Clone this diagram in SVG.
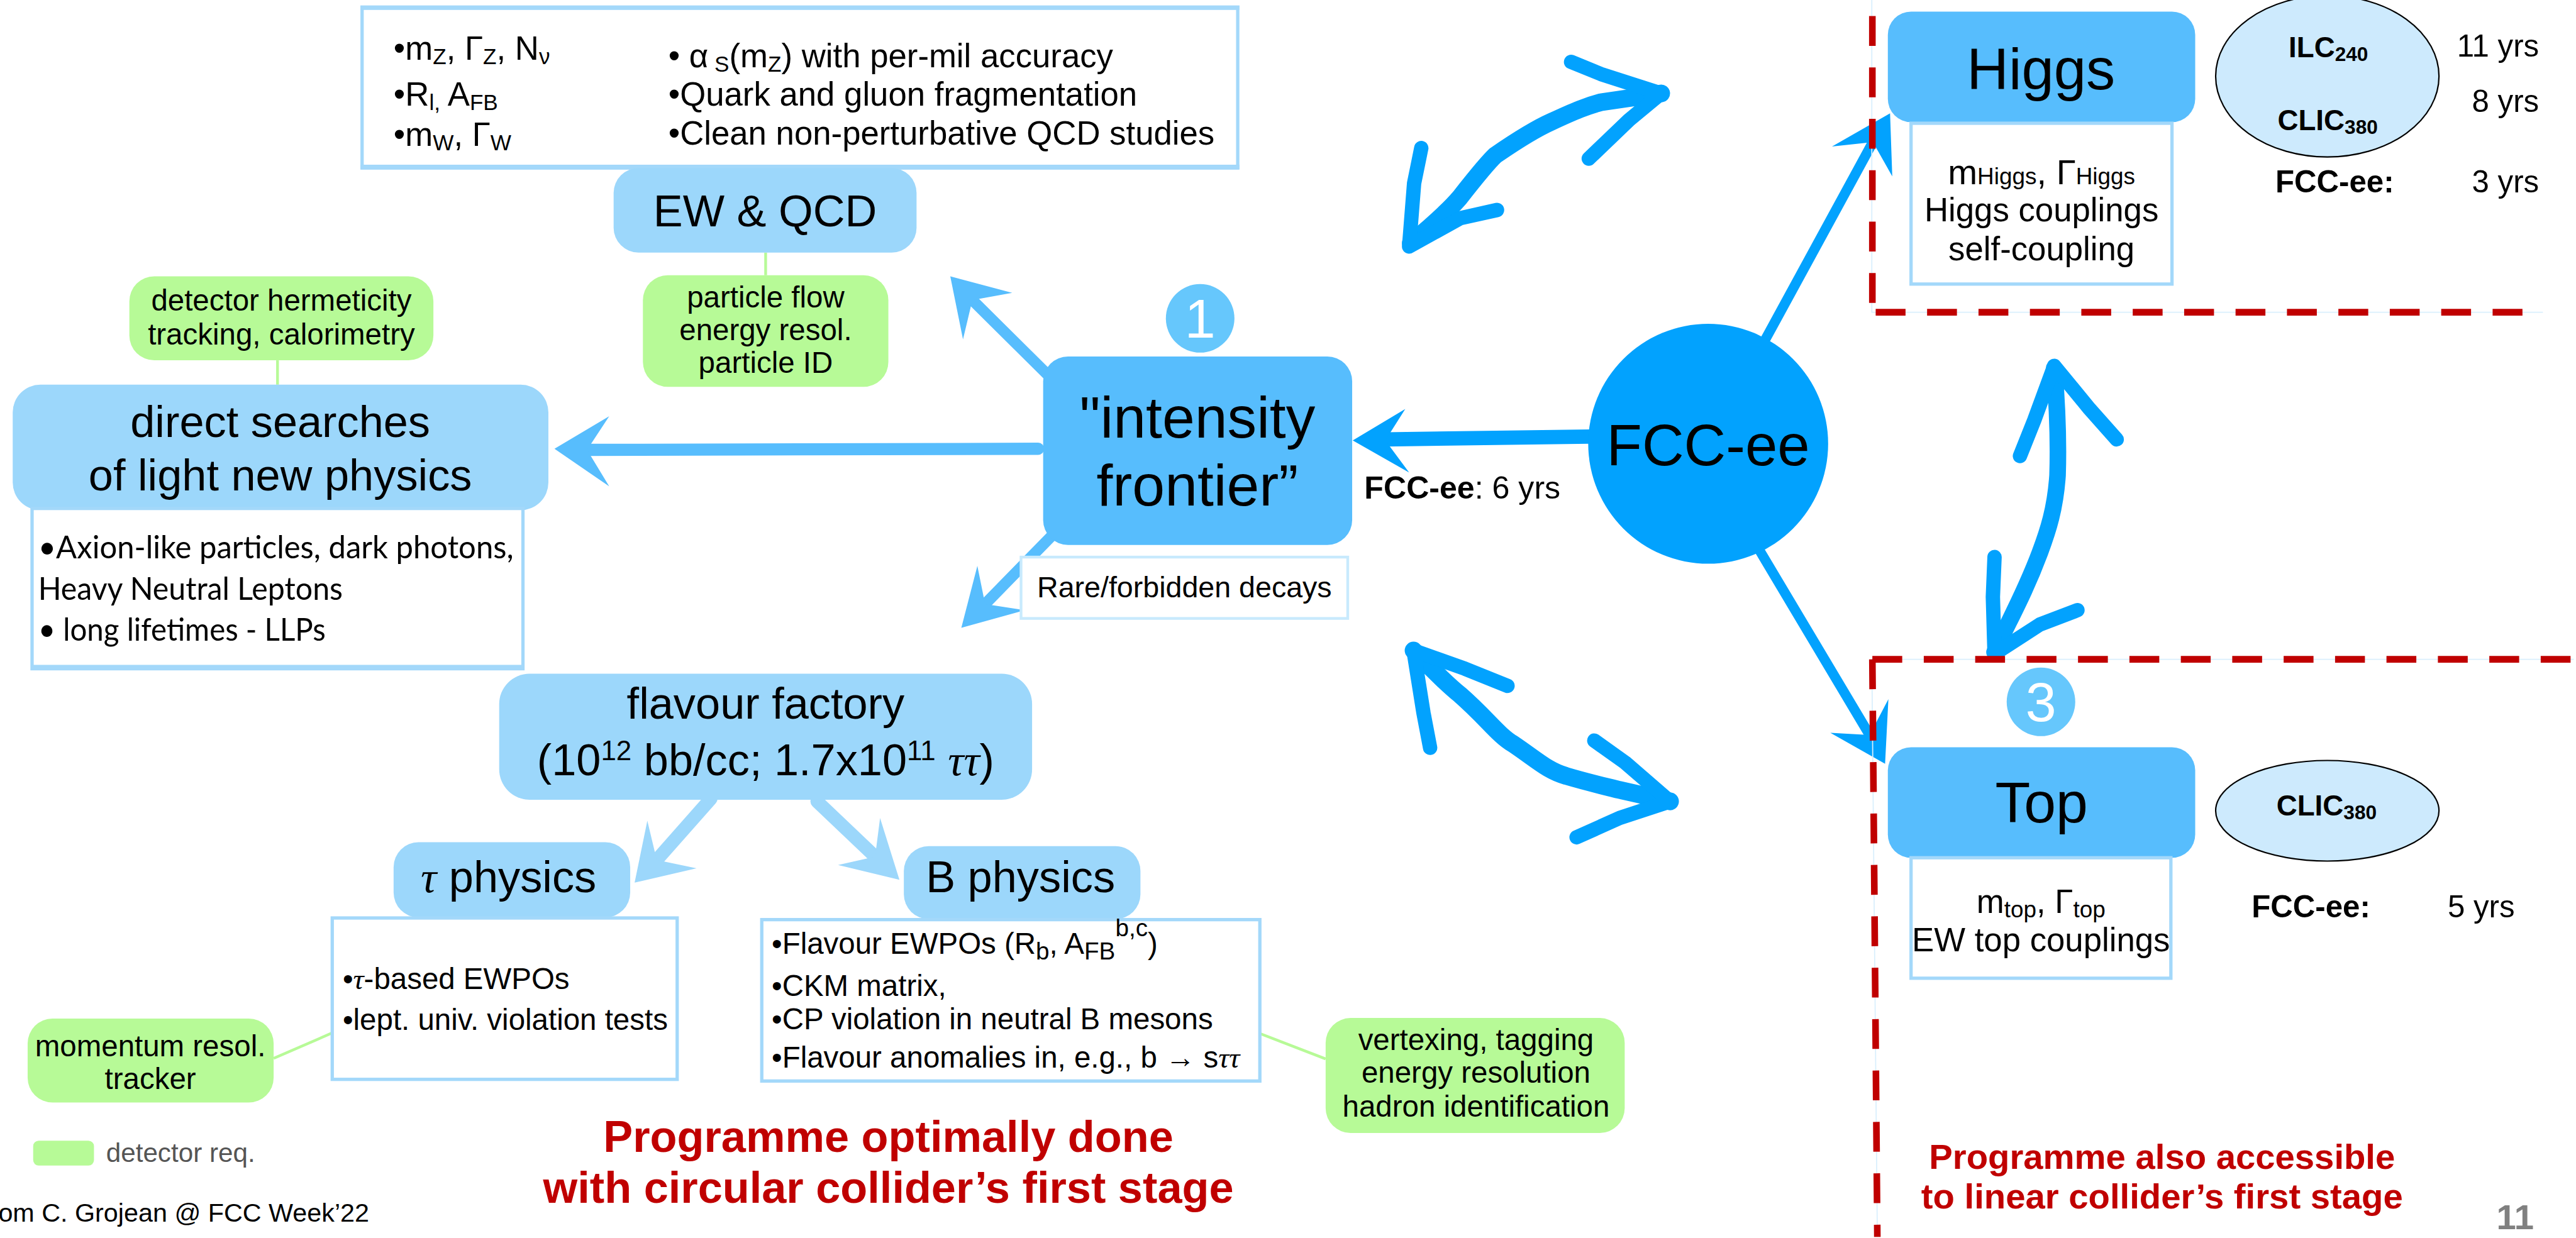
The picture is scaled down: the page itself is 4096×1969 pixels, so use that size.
<svg xmlns="http://www.w3.org/2000/svg" width="4096" height="1969" viewBox="0 0 4096 1969">
<style>
text{font-family:"Liberation Sans",Arial,sans-serif;fill:#000}
.f54{font-size:54px}
.f60{font-size:60px}
.f80{font-size:80px}
.f56{font-size:56px}
.c{text-anchor:middle}
.b{font-weight:bold}
.light{fill:#9cd7fb}
.med{fill:#57bdfd}
.green{fill:#b7fa97}
.wbox{fill:#fff;stroke:#a3d8fa;stroke-width:6}
.band{fill:#a3d8fa}
.gline{stroke:#b7fa97;stroke-width:5;fill:none}
.red{stroke:#c00000;stroke-width:12;stroke-dasharray:54 39;fill:none}
.frame{stroke:#d9effd;stroke-width:2;fill:none}
.shM{stroke:#57bdfd;fill:none;stroke-linecap:round}
.hdM{fill:#57bdfd}
.shF{stroke:#02a2fe;fill:none;stroke-linecap:round}
.hdF{fill:#02a2fe}
.shL{stroke:#9cd7fb;fill:none;stroke-linecap:round}
.hdL{fill:#9cd7fb}
.hand{stroke:#02a2fe;fill:none;stroke-linecap:round;stroke-linejoin:round}
.num{fill:#66c7fc}
.numt{font-size:100px;fill:#fff;text-anchor:middle}
.redt{fill:#c00000;font-weight:bold}
.serif{font-family:"Liberation Serif","Times New Roman",serif;font-style:italic}
.calib{font-family:Lato,"Liberation Sans",sans-serif;font-size:58px}
</style>
<rect width="4096" height="1969" fill="#fff"/>
<g transform="scale(0.879)">

<!-- connectors -->
<g id="connectors">
  <line class="gline" x1="1385" y1="457" x2="1385" y2="498"/>
  <line class="gline" x1="502" y1="652" x2="502" y2="696"/>
  <line class="gline" x1="495" y1="1915" x2="601" y2="1869"/>
  <line class="gline" x1="2279" y1="1870" x2="2398" y2="1916"/>
  <path class="shM" stroke-width="22" d="M1878 812 L1060 814"/>
  <polygon class="hdM" points="1003,812 1102,753 1062,814 1102,880"/>
  <path class="shM" stroke-width="20" d="M1894 677 L1759 543"/>
  <polygon class="hdM" points="1719,500 1831,530 1759,543 1742,614"/>
  <path class="shM" stroke-width="20" d="M1906 966 L1782 1093"/>
  <polygon class="hdM" points="1739,1136 1768,1024 1782,1093 1854,1104"/>
  <path class="shL" stroke-width="24" d="M1286 1445 L1188 1556"/>
  <polygon class="hdL" points="1148,1597 1171,1485 1188,1556 1260,1571"/>
  <path class="shL" stroke-width="24" d="M1478 1450 L1583 1550"/>
  <polygon class="hdL" points="1627,1592 1592,1480 1583,1550 1516,1565"/>
  <path class="shF" stroke-width="26" d="M2875 790 L2506 795"/>
  <polygon class="hdF" points="2447,797 2542,740 2506,797 2549,855"/>
  <path class="shF" stroke-width="18" d="M3193 615 L3388 257"/>
  <polygon class="hdF" points="3419,205 3423,319 3388,257 3314,265"/>
  <path class="shF" stroke-width="18" d="M3183 996 L3382 1330"/>
  <polygon class="hdF" points="3410,1382 3311,1326 3382,1330 3416,1265"/>
  <path class="hand" stroke-width="32" d="M2552 440 C2600 400 2630 370 2641 357 C2670 320 2690 295 2705 281 C2750 250 2780 232 2807 220 C2850 200 2870 192 2896 185 L3005 169"/>
  <path class="hand" stroke-width="26" d="M3005 169 L2896 134 L2842 112 M3005 169 L2947 217 L2874 287"/>
  <path class="hand" stroke-width="26" d="M2549 446 L2558 332 L2571 268 M2549 446 L2641 395 L2708 380"/>
  <path class="hand" stroke-width="32" d="M2557 1177 C2600 1220 2620 1240 2641 1257 C2690 1300 2710 1330 2737 1346 C2780 1375 2800 1395 2833 1404 C2870 1415 2900 1422 2928 1429 L3021 1450"/>
  <path class="hand" stroke-width="26" d="M2557 1177 L2575 1290 L2587 1353 M2557 1177 L2650 1210 L2727 1241"/>
  <path class="hand" stroke-width="26" d="M3021 1450 L2940 1380 L2884 1340 M3021 1450 L2930 1480 L2852 1515"/>
  <path class="hand" stroke-width="30" d="M3716 666 C3722 740 3724 800 3722 860 C3718 920 3705 960 3690 1000 C3660 1080 3630 1130 3608 1180"/>
  <path class="hand" stroke-width="26" d="M3716 662 L3680 760 L3654 825 M3716 662 L3780 740 L3829 795"/>
  <path class="hand" stroke-width="26" d="M3608 1183 L3605 1080 L3608 1008 M3608 1183 L3690 1130 L3758 1104"/>
</g>

<g id="ew-params">
  <rect class="wbox" x="655" y="13" width="1584" height="291"/>
  <rect class="band" x="652" y="10" width="1590" height="8"/>
  <rect class="band" x="652" y="298" width="1590" height="8"/>
  <text class="f60" x="712" y="108">•m<tspan font-size="40" dy="8">Z</tspan><tspan dy="-8">, Γ</tspan><tspan font-size="40" dy="8">Z</tspan><tspan dy="-8">, N</tspan><tspan font-size="40" dy="8">ν</tspan></text>
  <text class="f60" x="712" y="191">•R<tspan font-size="40" dy="8">l,</tspan><tspan dy="-8"> A</tspan><tspan font-size="40" dy="8">FB</tspan></text>
  <text class="f60" x="712" y="264">•m<tspan font-size="40" dy="8">W</tspan><tspan dy="-8">, Γ</tspan><tspan font-size="40" dy="8">W</tspan></text>
  <text class="f60" x="1209" y="122">• α<tspan font-size="40" dy="8"> S</tspan><tspan dy="-8">(m</tspan><tspan font-size="40" dy="8">Z</tspan><tspan dy="-8">) with per-mil accuracy</tspan></text>
  <text class="f60" x="1209" y="191">•Quark and gluon fragmentation</text>
  <text class="f60" x="1209" y="262">•Clean non-perturbative QCD studies</text>
</g>

<g id="ew-qcd">
  <rect class="light" x="1110" y="304" width="548" height="153" rx="45"/>
  <text class="f80 c" x="1384" y="409">EW &amp; QCD</text>
</g>

<g id="det-particle-flow">
  <rect class="green" x="1163" y="498" width="444" height="202" rx="45"/>
  <text class="f54 c" x="1385" y="556">particle flow</text>
  <text class="f54 c" x="1385" y="615">energy resol.</text>
  <text class="f54 c" x="1385" y="675">particle ID</text>
</g>

<g id="det-hermeticity">
  <rect class="green" x="234" y="500" width="550" height="152" rx="45"/>
  <text class="f54 c" x="509" y="562">detector hermeticity</text>
  <text class="f54 c" x="509" y="624">tracking, calorimetry</text>
</g>

<g id="direct-searches">
  <rect class="light" x="23" y="696" width="969" height="227" rx="50"/>
  <text class="f80 c" x="507" y="791">direct searches</text>
  <text class="f80 c" x="507" y="887">of light new physics</text>
</g>

<g id="direct-details">
  <rect class="wbox" x="58" y="920" width="888" height="290" stroke-width="4"/>
  <rect class="band" x="56" y="1203" width="892" height="9"/>
  <text class="calib" x="69" y="1010" textLength="860" lengthAdjust="spacingAndGlyphs">•Axion-like particles, dark photons,</text>
  <text class="calib" x="69" y="1085" textLength="551" lengthAdjust="spacingAndGlyphs">Heavy Neutral Leptons</text>
  <text class="calib" x="69" y="1159" textLength="520" lengthAdjust="spacingAndGlyphs">• long lifetimes - LLPs</text>
</g>

<g id="intensity">
  <rect class="med" x="1887" y="645" width="559" height="341" rx="45"/>
  <text class="c" font-size="106" x="2166" y="792">"intensity</text>
  <text class="c" font-size="106" x="2166" y="915">frontier”</text>
</g>

<g id="badge-1">
  <circle class="num" cx="2171" cy="576" r="62"/>
  <text class="numt" x="2171" y="611">1</text>
</g>

<g id="rare">
  <rect x="1847" y="1008" width="591" height="111" fill="#fff" stroke="#c8eafd" stroke-width="5"/>
  <text font-size="53" x="1876" y="1081">Rare/forbidden decays</text>
</g>

<g id="fcc-ee">
  <circle cx="3090" cy="803" r="217" fill="#02a2fe"/>
  <text class="c" font-size="105" x="3090" y="842">FCC-ee</text>
</g>

<g id="fcc-6yrs">
  <text font-size="57" x="2468" y="902"><tspan class="b">FCC-ee</tspan>: 6 yrs</text>
</g>

<g id="flavour">
  <rect class="light" x="903" y="1219" width="964" height="228" rx="55"/>
  <text class="f80 c" x="1385" y="1300">flavour factory</text>
  <text class="f80 c" x="1385" y="1403">(10<tspan font-size="50" dy="-28">12</tspan><tspan dy="28"> bb/cc; 1.7x10</tspan><tspan font-size="50" dy="-28">11</tspan><tspan dy="28"> </tspan><tspan class="serif">ττ</tspan>)</text>
</g>

<g id="tau">
  <rect class="light" x="712" y="1524" width="428" height="136" rx="45"/>
  <text class="f80 c" x="920" y="1614"><tspan class="serif">τ</tspan> physics</text>
</g>

<g id="tau-details">
  <rect class="wbox" x="601" y="1661" width="624" height="292"/>
  <text class="f54" x="620" y="1790">•<tspan class="serif">τ</tspan>-based EWPOs</text>
  <text class="f54" x="620" y="1864">•lept. univ. violation tests</text>
</g>

<g id="bphys">
  <rect class="light" x="1635" y="1531" width="428" height="132" rx="45"/>
  <text class="f80 c" x="1846" y="1614">B physics</text>
</g>

<g id="b-details">
  <rect class="wbox" x="1378" y="1664" width="901" height="292"/>
  <text class="f54" x="1396" y="1726">•Flavour EWPOs (R<tspan font-size="44" dy="10">b</tspan><tspan dy="-10">, A</tspan><tspan font-size="44" dy="10">FB</tspan><tspan font-size="44" dy="-42">b,c</tspan><tspan dy="32">)</tspan></text>
  <text class="f54" x="1396" y="1802">•CKM matrix,</text>
  <text class="f54" x="1396" y="1862">•CP violation in neutral B mesons</text>
  <text class="f54" x="1396" y="1932">•Flavour anomalies in, e.g., b → s<tspan class="serif">ττ</tspan></text>
</g>

<g id="det-momentum">
  <rect class="green" x="50" y="1843" width="445" height="152" rx="45"/>
  <text class="f54 c" x="272" y="1911">momentum resol.</text>
  <text class="f54 c" x="272" y="1970">tracker</text>
</g>

<g id="det-vertexing">
  <rect class="green" x="2398" y="1842" width="541" height="208" rx="45"/>
  <text class="f54 c" x="2670" y="1900">vertexing, tagging</text>
  <text class="f54 c" x="2670" y="1959">energy resolution</text>
  <text class="f54 c" x="2670" y="2020">hadron identification</text>
</g>

<g id="legend">
  <rect class="green" x="60" y="2064" width="110" height="45" rx="10"/>
  <text font-size="48" x="192" y="2102" style="fill:#555">detector req.</text>
</g>

<g id="credit">
  <text font-size="47" x="-3" y="2210">om C. Grojean @ FCC Week’22</text>
</g>

<g id="note-left">
  <text class="redt c" font-size="80" x="1607" y="2084">Programme optimally done</text>
  <text class="redt c" font-size="80" x="1607" y="2176">with circular collider’s first stage</text>
</g>

<g id="higgs">
  <rect class="med" x="3415" y="21" width="556" height="200" rx="42"/>
  <text class="c" font-size="105" x="3692" y="162">Higgs</text>
</g>
<g id="higgs-details">
  <rect class="wbox" x="3457" y="223" width="472" height="291"/>
  <text class="c" font-size="64" x="3693" y="333">m<tspan font-size="42">Higgs</tspan>, Γ<tspan font-size="42">Higgs</tspan></text>
  <text class="f60 c" x="3693" y="401">Higgs couplings</text>
  <text class="f60 c" x="3693" y="471">self-coupling</text>
</g>
<g id="higgs-linear">
  <ellipse cx="4210" cy="138" rx="202" ry="146" fill="#cdeafd" stroke="#000" stroke-width="2.5"/>
  <text class="b" font-size="52" x="4140" y="104">ILC<tspan font-size="36" dy="6">240</tspan></text>
  <text class="b" font-size="52" x="4120" y="236">CLIC<tspan font-size="36" dy="6">380</tspan></text>
  <text class="f56" x="4593" y="102" text-anchor="end">11 yrs</text>
  <text class="f56" x="4593" y="202" text-anchor="end">8 yrs</text>
  <text class="f56 b" x="4116" y="348">FCC-ee:</text>
  <text class="f56" x="4593" y="348" text-anchor="end">3 yrs</text>
</g>

<g id="badge-3">
  <circle class="num" cx="3692" cy="1270" r="62"/>
  <text class="numt" x="3692" y="1305">3</text>
</g>
<g id="top">
  <rect class="med" x="3415" y="1352" width="556" height="200" rx="42"/>
  <text class="c" font-size="104" x="3693" y="1488">Top</text>
</g>
<g id="top-details">
  <rect class="wbox" x="3457" y="1552" width="470" height="218"/>
  <text class="c" font-size="60" x="3692" y="1652">m<tspan font-size="42" dy="8">top</tspan><tspan dy="-8">, Γ</tspan><tspan font-size="42" dy="8">top</tspan></text>
  <text class="f60 c" x="3692" y="1721">EW top couplings</text>
</g>
<g id="top-linear">
  <ellipse cx="4210" cy="1467" rx="202" ry="91" fill="#cdeafd" stroke="#000" stroke-width="2.5"/>
  <text class="b" font-size="52" x="4118" y="1476">CLIC<tspan font-size="36" dy="6">380</tspan></text>
  <text class="f56 b" x="4073" y="1660">FCC-ee:</text>
  <text class="f56" x="4549" y="1660" text-anchor="end">5 yrs</text>
</g>

<g id="regions">
  <path class="frame" d="M3386 0 V565 H4600 M3386 1193 H4656 M3386 1193 L3396 2238"/>
  <path class="red" d="M3387 29 V560"/>
  <path class="red" d="M3393 565 H4570"/>
  <path class="red" d="M3387 1193 H4656"/>
  <path class="red" d="M3387 1193 L3396 2238"/>
</g>

<g id="note-right">
  <text class="redt c" font-size="64" x="3911" y="2115">Programme also accessible</text>
  <text class="redt c" font-size="64" x="3911" y="2187">to linear collider’s first stage</text>
</g>

<g id="page">
  <text class="b" font-size="64" x="4516" y="2224" style="fill:#808080">11</text>
</g>
</g>
</svg>
